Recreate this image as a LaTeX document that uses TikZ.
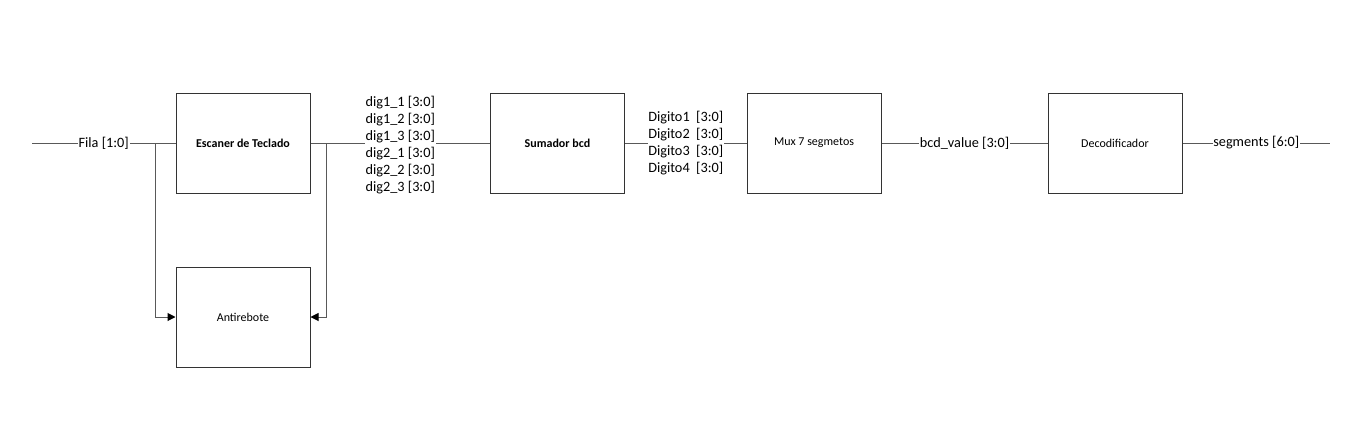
\documentclass[tikz,border=0pt]{standalone}
\usepackage{fontspec}
\setmainfont{Carlito}
\usetikzlibrary{arrows.meta}
\tikzset{
	block/.style={draw=black!80, line width=0.75pt, minimum width=100.5pt, minimum height=75pt, font=\fontsize{9}{11}\selectfont, inner sep=0pt},
	wire/.style={draw=black!65, line width=0.75pt},
	lbl/.style={fill=white, inner sep=0.5pt, font=\fontsize{10.7}{12.75}\selectfont},
	tip/.style={-{Triangle[length=6pt,width=6pt,color=black]}}
}

\begin{document}
\begin{tikzpicture}[x=0.75pt, y=-0.75pt]
			%%%%% START %%%%%
			\useasboundingbox[fill=white] (0, 0) rectangle (1362, 428);
			
			\node[block, font=\bfseries\fontsize{9}{11}\selectfont] (esc) at (243, 143) {Escaner de Teclado};
			\node[block] (anti) at (243, 317) {Antirebote};
			\node[block, font=\bfseries\fontsize{9}{11}\selectfont] (sum) at (557.5, 143) {Sumador bcd};
			\node[block] (mux) at (814, 143) {Mux 7 segmetos};
			\node[block] (dec) at (1115, 143) {Decodificador};
			
			\coordinate (fila) at (32, 143);
			\coordinate (segs) at (1330, 143);
			\coordinate (filaj) at (155, 143);
			\coordinate (digj) at (326, 143);
			
			\draw[wire] (fila) -- node[lbl] {Fila [1:0]} (esc);
			\draw[wire] (esc) -- node[lbl, align=left, yshift=-1.5pt] {dig1\_1 [3:0]\\dig1\_2 [3:0]\\dig1\_3 [3:0]\\dig2\_1 [3:0]\\dig2\_2 [3:0]\\dig2\_3 [3:0]} (sum);
			\draw[wire] (sum) -- node[lbl, align=left] {Digito1~~[3:0]\\Digito2~~[3:0]\\Digito3~~[3:0]\\Digito4~~[3:0]} (mux);
			\draw[wire] (mux) -- node[lbl] {bcd\_value [3:0]} (dec);
			\draw[wire] (dec) -- node[lbl] {segments [6:0]} (segs);
			
			\draw[wire, tip] (filaj) |- (anti.west);
			\draw[wire, tip] (digj) |- (anti.east);
			%%%%% END %%%%%
		\end{tikzpicture}
\end{document}
